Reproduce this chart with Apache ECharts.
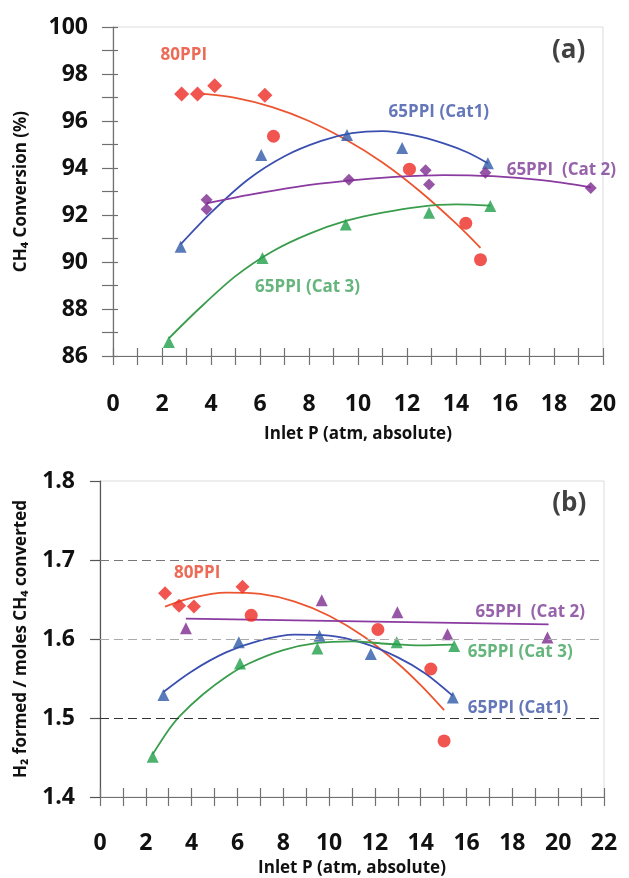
<!DOCTYPE html>
<html><head><meta charset="utf-8">
<script src="https://cdn.jsdelivr.net/npm/echarts@6/dist/echarts.min.js"></script>
<style>html,body{margin:0;padding:0;background:#fff}#c{width:629px;height:878px}</style>
</head><body><div id="c"></div>
<script>
// ---------- Panel (a): CH4 conversion (%) vs inlet P ----------
const aRedDiamonds = [[2.8,97.15],[3.45,97.15],[4.15,97.5],[6.2,97.1]];
const aRedCircles  = [[6.55,95.35],[12.1,93.95],[14.4,91.65],[15.0,90.1]];
const aBlueTri     = [[2.76,90.65],[6.05,94.55],[9.55,95.4],[11.8,94.85],[15.3,94.2]];
const aPurpleDia   = [[3.82,92.65],[3.82,92.25],[9.63,93.5],[12.76,93.9],[12.9,93.3],[15.2,93.8],[19.5,93.15]];
const aGreenTri    = [[2.28,86.6],[6.1,90.17],[9.5,91.6],[12.9,92.1],[15.4,92.38]];
// trend lines
const aRedFit    = [[3.7,97.15],[5,96.98],[6.5,96.59],[8,96.0],[9.5,95.21],[11,94.23],[12.5,93.03],[14,91.64],[15,90.6]];
const aBlueFit   = [[2.76,90.75],[4,92.1],[5.5,93.5],[7,94.5],[8.5,95.15],[9.75,95.48],[11,95.57],[12.25,95.4],[13.5,95.05],[14.5,94.65],[15.3,94.2]];
const aPurpleFit = [[3.82,92.5],[5.5,92.85],[7.5,93.2],[9.5,93.45],[11.5,93.62],[13.5,93.7],[15.5,93.65],[17.5,93.48],[19.5,93.18]];
const aGreenFit  = [[2.28,86.75],[3.5,88.0],[5,89.4],[6.5,90.45],[8,91.2],[9.5,91.75],[11,92.1],[12.5,92.35],[14,92.45],[15.4,92.4]];
const aLabels = [[2.89,98.8,'80PPI'],[13.3,96.38,'65PPI (Cat1)'],[18.3,93.9,'65PPI  (Cat 2)'],[7.94,88.94,'65PPI (Cat 3)']];
const aTag = [[18.6,99.0,'(a)']];

// ---------- Panel (b): H2 formed / moles CH4 converted ----------
const bRedDiamonds = [[2.84,1.658],[3.45,1.642],[4.1,1.641],[6.22,1.666]];
const bRedCircles  = [[6.6,1.63],[12.13,1.612],[14.44,1.562],[15.02,1.471]];
const bPurpleTri   = [[3.75,1.6135],[9.68,1.649],[12.98,1.634],[15.17,1.606],[19.53,1.602]];
const bBlueTri     = [[2.77,1.529],[6.06,1.596],[9.58,1.604],[11.82,1.581],[15.4,1.526]];
const bGreenTri    = [[2.3,1.451],[6.11,1.569],[9.49,1.588],[12.95,1.596],[15.46,1.591]];
const bRedFit    = [[2.84,1.641],[4,1.652],[5.5,1.6586],[7,1.657],[8.5,1.6474],[10,1.6295],[11.5,1.6034],[13,1.569],[14,1.5416],[15.02,1.51]];
const bBlueFit   = [[2.77,1.533],[4,1.559],[5.5,1.583],[7,1.5983],[8.5,1.6055],[10,1.6043],[11.5,1.5947],[13,1.5767],[14.2,1.5563],[15.4,1.528]];
const bGreenFit  = [[2.3,1.454],[3,1.485],[3.5,1.503],[4.5,1.53],[5.5,1.552],[6.5,1.569],[8,1.586],[9.5,1.595],[11,1.597],[12.5,1.594],[14,1.592],[15.43,1.593]];
const bPurpleFit = [[3.75,1.6257],[19.58,1.6186]];
const bLabels = [[4.24,1.6835,'80PPI'],[18.78,1.634,'65PPI  (Cat 2)'],[18.34,1.5835,'65PPI (Cat 3)'],[18.25,1.5127,'65PPI (Cat1)']];
const bTag = [[20.48,1.772,'(b)']];
const bGridLines = [1.5,1.6,1.7];

const FONT = '"Open Sans","Noto Sans","DejaVu Sans",sans-serif';
const C = {
  redM:'#ee2a24', redL:'#ec5530', redT:'#e8452c',
  blueM:'#2f5aa8', blueL:'#3b4fb0', blueT:'#3d55a6',
  purM:'#7d2c8f', purL:'#8a3aa0', purT:'#7c3b94',
  grnM:'#1f9f4a', grnL:'#3a9d4c', grnT:'#3ea35c'
};
const gridLineColors = ['#333','#aaa','#777'];

function fit(data, xi, color){
  return {type:'line', data, xAxisIndex:xi, yAxisIndex:xi, smooth:0.3, symbol:'none',
    lineStyle:{color, width:1.8}, silent:true, z:2};
}
function pts(data, xi, symbol, size, color){
  return {type:'scatter', data, xAxisIndex:xi, yAxisIndex:xi, symbol, symbolSize:size,
    itemStyle:{color}, silent:true, z:3};
}
function texts(data, xi, colors, fontSize, weight){
  return {type:'scatter', xAxisIndex:xi, yAxisIndex:xi, symbolSize:0, silent:true, z:4, clip:false,
    label:{show:true, position:[0,0], align:'center', verticalAlign:'middle',
      fontFamily:FONT, fontSize, fontWeight:weight, formatter:p=>p.value[2]},
    data: data.map((d,i)=>({value:d, label:{color:colors[i]}}))};
}

const tickLbl = {fontFamily:FONT, fontSize:23, fontWeight:'bold', color:'#111'};
const nameStyle = {fontFamily:FONT, fontSize:17, fontWeight:'bold', color:'#111'};
const axCol = '#707070';

const option = {
  animation:false,
  backgroundColor:'#fff',
  grid:[
    {left:113, top:27, width:490, height:329, show:true, borderColor:'#dcdcdc', borderWidth:1, containLabel:false},
    {left:100, top:481, width:504, height:316, show:true, borderColor:'#dcdcdc', borderWidth:1, containLabel:false}
  ],
  xAxis:[
    {gridIndex:0, type:'value', min:0, max:20, interval:1, position:'bottom',
      axisLine:{lineStyle:{color:axCol, width:1.2}}, axisTick:{length:9, lineStyle:{color:axCol, width:1.2}},
      axisLabel:Object.assign({margin:37, formatter:v=> (v%2===0? String(v):'')}, tickLbl),
      splitLine:{show:false},
      name:'Inlet P (atm, absolute)', nameLocation:'middle', nameGap:70, nameTextStyle:nameStyle},
    {gridIndex:0, type:'value', min:0, max:20, interval:1, position:'bottom',
      axisLine:{show:false}, axisTick:{inside:true, length:8, lineStyle:{color:axCol, width:1.2}},
      axisLabel:{show:false}, splitLine:{show:false}},
    {gridIndex:1, type:'value', min:0, max:22, interval:1, position:'bottom',
      axisLine:{lineStyle:{color:axCol, width:1.2}}, axisTick:{length:9, lineStyle:{color:axCol, width:1.2}},
      axisLabel:Object.assign({margin:35, formatter:v=> (v%2===0? String(v):'')}, tickLbl),
      splitLine:{show:false},
      name:'Inlet P (atm, absolute)', nameLocation:'middle', nameGap:63, nameTextStyle:nameStyle},
    {gridIndex:1, type:'value', min:0, max:22, interval:1, position:'bottom',
      axisLine:{show:false}, axisTick:{inside:true, length:9, lineStyle:{color:axCol, width:1.2}},
      axisLabel:{show:false}, splitLine:{show:false}}
  ],
  yAxis:[
    {gridIndex:0, type:'value', min:86, max:100, interval:1, position:'left',
      axisLine:{show:true, lineStyle:{color:axCol, width:1.2}}, axisTick:{show:true, length:11, lineStyle:{color:axCol, width:1.2}},
      axisLabel:Object.assign({margin:25, formatter:v=> (v%2===0? String(v):'')}, tickLbl),
      splitLine:{show:false},
      name:'CH\u2084 Conversion (%)', nameLocation:'middle', nameGap:83, nameTextStyle:nameStyle},
    {gridIndex:0, type:'value', min:86, max:100, interval:1, position:'left',
      axisLine:{show:false}, axisTick:{show:true, inside:true, length:5, lineStyle:{color:axCol, width:1.2}},
      axisLabel:{show:false}, splitLine:{show:false}},
    {gridIndex:1, type:'value', min:1.4, max:1.8, interval:0.1, position:'left',
      axisLine:{show:true, lineStyle:{color:'#555', width:1.2}}, axisTick:{show:true, length:10, lineStyle:{color:'#555', width:1.2}},
      axisLabel:Object.assign({margin:25, formatter:v=>v.toFixed(1)}, tickLbl),
      splitLine:{show:false},
      name:'H\u2082 formed / moles CH\u2084 converted', nameLocation:'middle', nameGap:70, nameTextStyle:nameStyle},
    {gridIndex:1, type:'value', min:1.4, max:1.8, interval:0.1, position:'left',
      axisLine:{show:false}, axisTick:{show:false}, axisLabel:{show:false}, splitLine:{show:false}}
  ],
  series:[
    {type:'line', data:[], xAxisIndex:2, yAxisIndex:2, silent:true, z:1,
      markLine:{silent:true, symbol:['none','none'], label:{show:false}, animation:false,
        data: bGridLines.map((v,i)=>({yAxis:v, lineStyle:{color:gridLineColors[i], type:[9,5], width:1.2}}))}},
    fit(aRedFit,0,C.redL), fit(aBlueFit,0,C.blueL), fit(aPurpleFit,0,C.purL), fit(aGreenFit,0,C.grnL),
    pts(aRedDiamonds,0,'diamond',15,C.redM), pts(aRedCircles,0,'circle',13,C.redM),
    pts(aBlueTri,0,'triangle',12,C.blueM), pts(aPurpleDia,0,'diamond',12,C.purM), pts(aGreenTri,0,'triangle',12,C.grnM),
    texts(aLabels,0,[C.redT,C.blueT,C.purT,C.grnT],17,'bold'),
    texts(aTag,0,['#111'],26,'bold'),
    fit(bRedFit,2,C.redL), fit(bBlueFit,2,C.blueL), fit(bGreenFit,2,C.grnL), fit(bPurpleFit,2,C.purL),
    pts(bRedDiamonds,2,'diamond',14,C.redM), pts(bRedCircles,2,'circle',13,C.redM),
    pts(bPurpleTri,2,'triangle',12,C.purM), pts(bBlueTri,2,'triangle',12,C.blueM), pts(bGreenTri,2,'triangle',12,C.grnM),
    texts(bLabels,2,[C.redT,C.purT,C.grnT,C.blueT],17,'bold'),
    texts(bTag,2,['#111'],26,'bold')
  ]
};
const chart = echarts.init(document.getElementById('c'), null, {renderer:'canvas'});
chart.setOption(option);
</script></body></html>
